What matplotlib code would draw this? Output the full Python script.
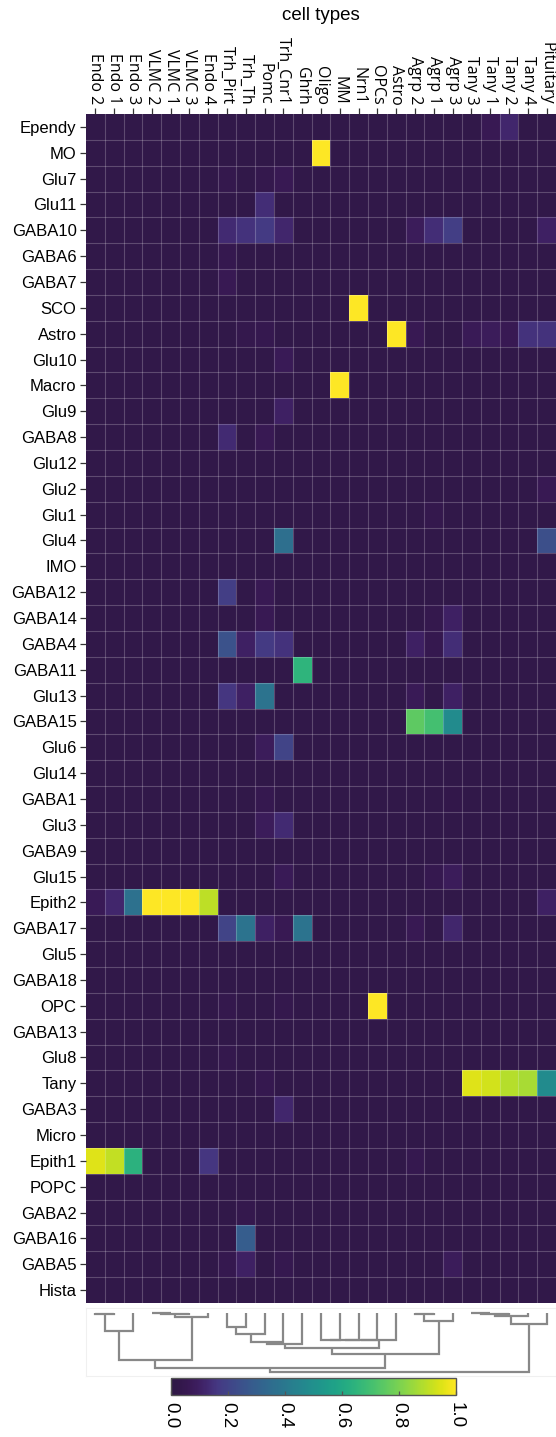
import matplotlib
matplotlib.use("Agg")
import matplotlib.pyplot as plt
from matplotlib.colors import ListedColormap, to_rgba
import numpy as np

row_labels = ["Ependy", "MO", "Glu7", "Glu11", "GABA10", "GABA6", "GABA7", "SCO",
              "Astro", "Glu10", "Macro", "Glu9", "GABA8", "Glu12", "Glu2", "Glu1",
              "Glu4", "IMO", "GABA12", "GABA14", "GABA4", "GABA11", "Glu13", "GABA15",
              "Glu6", "Glu14", "GABA1", "Glu3", "GABA9", "Glu15", "Epith2", "GABA17",
              "Glu5", "GABA18", "OPC", "GABA13", "Glu8", "Tany", "GABA3", "Micro",
              "Epith1", "POPC", "GABA2", "GABA16", "GABA5", "Hista"]

col_labels = ["Endo 2", "Endo 1", "Endo 3", "VLMC 2", "VLMC 1", "VLMC 3", "Endo 4",
              "Trh_Pirt", "Trh_Th", "Pomc", "Trh_Cnr1", "Ghrh", "Oligo", "MM", "Nrn1",
              "OPCs", "Astro", "Agrp 2", "Agrp 1", "Agrp 3", "Tany 3", "Tany 1",
              "Tany 2", "Tany 4", "Pituitary"]

# similarity values (rows x columns)
values = [
    # E2   E1   E3   V2   V1   V3   E4   TP   TT   Po   TC   Gh   Ol   MM   Nr   OP   As   A2   A1   A3   T3   T1   T2   T4   Pi
    [.02, .02, .02, .02, .02, .02, .02, .02, .02, .02, .02, .02, .02, .02, .02, .02, .02, .02, .02, .02, .02, .06, .12, .02, .02],  # Ependy
    [.02, .02, .02, .02, .02, .02, .02, .02, .02, .02, .02, .02, 1.0, .02, .02, .02, .02, .02, .02, .02, .02, .02, .02, .02, .02],  # MO
    [.02, .02, .02, .02, .02, .02, .02, .04, .02, .04, .06, .02, .02, .02, .02, .02, .02, .02, .02, .02, .02, .02, .02, .02, .02],  # Glu7
    [.02, .02, .02, .02, .02, .02, .02, .02, .02, .14, .02, .02, .02, .02, .02, .02, .02, .02, .02, .02, .02, .02, .02, .02, .02],  # Glu11
    [.02, .02, .02, .02, .02, .02, .02, .13, .15, .17, .12, .02, .02, .02, .02, .02, .02, .08, .14, .18, .02, .02, .02, .02, .10],  # GABA10
    [.02, .02, .02, .02, .02, .02, .02, .05, .02, .02, .02, .02, .02, .02, .02, .02, .02, .02, .02, .02, .02, .02, .02, .02, .02],  # GABA6
    [.02, .02, .02, .02, .02, .02, .02, .06, .02, .02, .02, .02, .02, .02, .02, .02, .02, .02, .02, .02, .02, .02, .02, .02, .02],  # GABA7
    [.02, .02, .02, .02, .02, .02, .02, .02, .02, .02, .02, .02, .02, .02, 1.0, .02, .02, .02, .02, .02, .02, .02, .02, .02, .02],  # SCO
    [.02, .02, .02, .02, .02, .02, .02, .02, .04, .05, .02, .02, .02, .02, .02, .02, 1.0, .06, .02, .02, .07, .08, .06, .15, .15],  # Astro
    [.02, .02, .02, .02, .02, .02, .02, .02, .02, .02, .07, .02, .02, .02, .02, .02, .02, .02, .02, .02, .02, .02, .02, .02, .02],  # Glu10
    [.02, .02, .02, .02, .02, .02, .02, .02, .02, .02, .02, .02, .02, 1.0, .02, .02, .02, .02, .02, .02, .02, .02, .02, .02, .02],  # Macro
    [.02, .02, .02, .02, .02, .02, .02, .02, .02, .02, .10, .02, .02, .02, .02, .02, .02, .02, .02, .02, .02, .02, .02, .02, .02],  # Glu9
    [.02, .02, .02, .02, .02, .02, .02, .13, .02, .06, .02, .02, .02, .02, .02, .02, .02, .02, .02, .02, .02, .02, .02, .02, .02],  # GABA8
    [.02, .02, .02, .02, .02, .02, .02, .02, .02, .02, .02, .02, .02, .02, .02, .02, .02, .02, .02, .02, .02, .02, .02, .02, .02],  # Glu12
    [.02, .02, .02, .02, .02, .02, .02, .02, .02, .02, .02, .02, .02, .02, .02, .02, .02, .02, .02, .02, .02, .02, .02, .02, .06],  # Glu2
    [.02, .02, .02, .02, .02, .02, .02, .02, .02, .02, .02, .02, .02, .02, .02, .02, .02, .02, .04, .02, .02, .02, .02, .02, .02],  # Glu1
    [.02, .02, .02, .02, .02, .02, .02, .02, .02, .02, .36, .02, .02, .02, .02, .02, .02, .02, .02, .02, .02, .02, .02, .02, .24],  # Glu4
    [.02, .02, .02, .02, .02, .02, .02, .02, .02, .02, .02, .02, .02, .02, .02, .02, .02, .02, .02, .02, .02, .02, .02, .02, .02],  # IMO
    [.02, .02, .02, .02, .02, .02, .02, .18, .02, .06, .02, .02, .02, .02, .02, .02, .02, .02, .02, .02, .02, .02, .02, .02, .02],  # GABA12
    [.02, .02, .02, .02, .02, .02, .02, .02, .02, .06, .02, .02, .02, .02, .02, .02, .02, .02, .04, .10, .02, .02, .02, .02, .02],  # GABA14
    [.02, .02, .02, .02, .02, .02, .02, .25, .10, .17, .15, .02, .02, .02, .02, .02, .02, .10, .05, .14, .02, .02, .02, .02, .02],  # GABA4
    [.02, .02, .02, .02, .02, .02, .02, .02, .02, .02, .02, .65, .02, .02, .02, .02, .02, .02, .02, .02, .02, .02, .02, .02, .02],  # GABA11
    [.02, .02, .02, .02, .02, .02, .02, .16, .10, .38, .02, .02, .02, .02, .02, .02, .02, .07, .02, .10, .02, .02, .02, .02, .02],  # Glu13
    [.02, .02, .02, .02, .02, .02, .02, .02, .02, .02, .02, .02, .02, .02, .02, .02, .02, .75, .70, .48, .02, .02, .02, .02, .02],  # GABA15
    [.02, .02, .02, .02, .02, .02, .02, .02, .02, .08, .20, .02, .02, .02, .02, .02, .02, .02, .02, .02, .02, .02, .02, .02, .02],  # Glu6
    [.02, .02, .02, .02, .02, .02, .02, .02, .02, .02, .02, .02, .02, .02, .02, .02, .02, .02, .02, .02, .02, .02, .02, .02, .02],  # Glu14
    [.02, .02, .02, .02, .02, .02, .02, .02, .02, .05, .02, .02, .02, .02, .02, .02, .02, .02, .02, .03, .02, .02, .02, .02, .02],  # GABA1
    [.02, .02, .02, .02, .02, .02, .02, .02, .02, .08, .13, .02, .02, .02, .02, .02, .02, .02, .02, .02, .02, .02, .02, .02, .02],  # Glu3
    [.02, .02, .02, .02, .02, .02, .02, .02, .02, .02, .02, .02, .02, .02, .02, .02, .02, .02, .02, .02, .02, .02, .02, .02, .02],  # GABA9
    [.02, .02, .02, .02, .02, .02, .02, .02, .02, .02, .07, .02, .02, .02, .02, .02, .02, .02, .05, .08, .02, .02, .02, .02, .02],  # Glu15
    [.07, .12, .37, 1.0, 1.0, 1.0, .90, .02, .02, .02, .02, .02, .02, .02, .02, .02, .02, .02, .02, .02, .02, .02, .02, .02, .10],  # Epith2
    [.02, .02, .02, .02, .02, .02, .02, .20, .38, .10, .06, .38, .02, .02, .02, .02, .02, .06, .02, .12, .02, .02, .02, .02, .02],  # GABA17
    [.02, .02, .02, .02, .02, .02, .02, .02, .02, .02, .02, .02, .02, .02, .02, .02, .02, .02, .02, .02, .02, .02, .02, .02, .02],  # Glu5
    [.02, .02, .02, .02, .02, .02, .02, .02, .02, .02, .02, .02, .02, .02, .02, .02, .02, .02, .02, .02, .02, .02, .02, .02, .02],  # GABA18
    [.02, .02, .02, .02, .02, .02, .02, .04, .02, .02, .04, .02, .02, .02, .02, 1.0, .02, .02, .02, .02, .02, .02, .02, .02, .02],  # OPC
    [.02, .02, .02, .02, .02, .02, .02, .02, .02, .02, .02, .02, .02, .02, .02, .02, .02, .02, .02, .02, .02, .02, .02, .02, .02],  # GABA13
    [.02, .02, .02, .02, .02, .02, .02, .04, .02, .02, .02, .02, .02, .02, .02, .02, .02, .02, .02, .02, .02, .02, .02, .02, .02],  # Glu8
    [.02, .02, .02, .02, .02, .02, .02, .02, .02, .05, .02, .02, .02, .02, .02, .02, .02, .02, .02, .02, .95, .93, .89, .87, .48],  # Tany
    [.02, .02, .02, .02, .02, .02, .02, .02, .02, .02, .12, .02, .02, .02, .02, .02, .02, .02, .02, .02, .02, .02, .02, .02, .02],  # GABA3
    [.02, .02, .02, .02, .02, .02, .02, .02, .02, .02, .02, .02, .02, .02, .02, .02, .02, .02, .02, .02, .02, .02, .02, .02, .02],  # Micro
    [.95, .91, .64, .02, .02, .02, .16, .02, .02, .02, .02, .02, .02, .02, .02, .02, .02, .05, .02, .02, .02, .02, .02, .02, .02],  # Epith1
    [.02, .02, .02, .02, .02, .02, .02, .02, .02, .02, .02, .02, .02, .02, .02, .02, .02, .02, .02, .02, .02, .02, .02, .02, .02],  # POPC
    [.02, .02, .02, .02, .02, .02, .02, .02, .04, .02, .02, .02, .02, .02, .02, .02, .02, .02, .02, .02, .02, .02, .02, .02, .02],  # GABA2
    [.02, .02, .02, .02, .02, .02, .02, .02, .29, .02, .02, .02, .02, .02, .02, .02, .02, .02, .02, .02, .02, .02, .02, .02, .02],  # GABA16
    [.02, .02, .02, .02, .02, .02, .02, .05, .10, .02, .05, .02, .02, .02, .02, .02, .02, .02, .02, .08, .02, .02, .02, .02, .02],  # GABA5
    [.02, .02, .02, .02, .02, .02, .02, .02, .02, .02, .02, .02, .02, .02, .02, .02, .02, .02, .02, .02, .02, .02, .02, .02, .02],  # Hista
]

# column dendrogram: (child a, child b, merge height); leaves are 0..24, new clusters 25..
dendro_merges = [
    (0, 1, 0.01), (25, 2, 0.30),
    (3, 4, 0.003), (27, 5, 0.008), (28, 6, 0.06),
    (26, 29, 0.80),
    (7, 8, 0.23), (31, 9, 0.36), (32, 10, 0.50), (33, 11, 0.53),
    (12, 13, 0.455), (35, 14, 0.456), (36, 15, 0.457), (37, 16, 0.458),
    (34, 38, 0.60),
    (17, 18, 0.01), (40, 19, 0.13),
    (39, 41, 0.69),
    (30, 42, 0.94),
    (20, 21, 0.002), (44, 22, 0.015), (45, 23, 0.04), (46, 24, 0.18),
    (43, 47, 1.0),
]

cbar_ticks = [0.0, 0.2, 0.4, 0.6, 0.8, 1.0]

W, H = 556, 1437
fig = plt.figure(figsize=(W / 100, H / 100), dpi=100)


def box(x0, y0, x1, y1):
    return [x0 / W, 1 - y1 / H, (x1 - x0) / W, (y1 - y0) / H]


# viridis, with the darkest end toned as it appears in the reference
base = plt.get_cmap("viridis")(np.linspace(0, 1, 256))
dark = np.array(to_rgba("#2e1a46"))
xs = np.linspace(0, 1, 256)
wgt = np.clip(1 - xs / 0.16, 0, 1)[:, None]
cmap = ListedColormap(base * (1 - wgt) + dark * wgt)

# ---- heatmap ----
ax = fig.add_axes(box(86, 114, 556, 1303))
data = np.array(values)
nrow, ncol = data.shape
mesh = ax.pcolormesh(np.arange(ncol + 1), np.arange(nrow + 1), data,
                     cmap=cmap, vmin=0, vmax=1)
ax.set_xlim(0, ncol)
ax.set_ylim(nrow, 0)
for i in range(1, nrow):
    ax.axhline(i, color="white", alpha=0.22, lw=0.8)
for j in range(1, ncol):
    ax.axvline(j, color="white", alpha=0.22, lw=0.8)
ax.set_xticks(np.arange(ncol) + 0.5)
ax.set_xticklabels(col_labels, rotation=-90, fontsize=11.5, family="Open Sans")
ax.xaxis.tick_top()
ax.set_yticks(np.arange(nrow) + 0.5)
ax.set_yticklabels(row_labels, fontsize=12, family="Liberation Sans")
ax.tick_params(length=4.3, width=0.9, color="#333333", pad=2.5)
for s in ax.spines.values():
    s.set_visible(False)

# ---- dendrogram ----
dax = fig.add_axes(box(86, 1308, 556, 1376))
pos = {i: i + 0.5 for i in range(ncol)}
hgt = {i: 0.0 for i in range(ncol)}
for k, (a, b, h) in enumerate(dendro_merges):
    idx = ncol + k
    xa, xb = pos[a], pos[b]
    dax.plot([xa, xa, xb, xb], [hgt[a], h, h, hgt[b]], color="#888888",
             lw=1.6, solid_capstyle="butt", solid_joinstyle="miter")
    pos[idx] = (xa + xb) / 2
    hgt[idx] = h
dax.set_xlim(0, ncol)
dax.set_ylim(1.074, -0.09)
dax.set_xticks([])
dax.set_yticks([])
for s in dax.spines.values():
    s.set_color("#f0f0f0")
    s.set_linewidth(0.8)

# ---- colorbar ----
cax = fig.add_axes(box(171, 1378, 456, 1395))
cb = fig.colorbar(mesh, cax=cax, orientation="horizontal", ticks=cbar_ticks)
cb.ax.set_xticklabels([f"{t:.1f}" for t in cbar_ticks], rotation=-90,
                      fontsize=13.5, family="Liberation Sans")
cb.ax.tick_params(direction="in", length=3, width=0.9, color="#555555", pad=5)
cb.outline.set_edgecolor("#555555")
cb.outline.set_linewidth(1.0)

fig.text(321 / W, 1 - 15 / H, "cell types", ha="center", va="center",
         fontsize=13.5, family="Liberation Sans")

fig.savefig("out.png", dpi=100)
